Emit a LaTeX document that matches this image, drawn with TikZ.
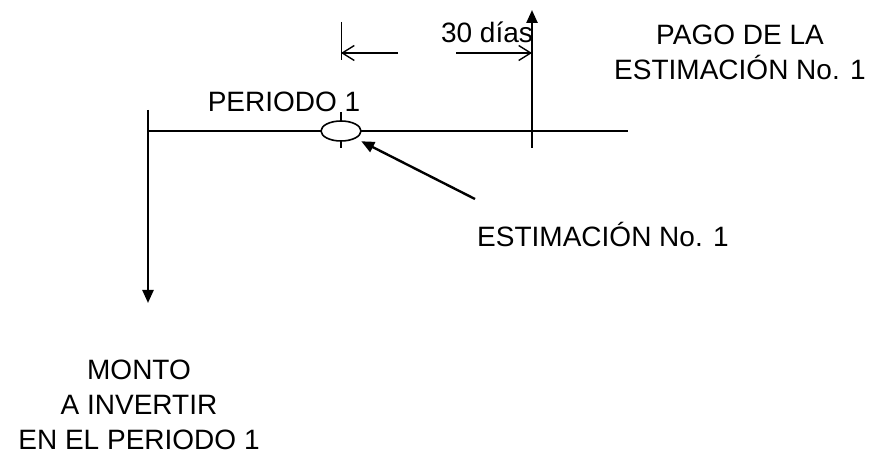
\documentclass[tikz,border=0pt]{standalone}
\usepackage{fontspec}
\setmainfont{Liberation Sans}
\usetikzlibrary{arrows.meta,shapes.geometric}
\begin{document}
\begin{tikzpicture}[x=0.5pt,y=-0.5pt,every node/.style={font=\fontsize{14}{17.5}\selectfont,inner sep=0pt}]
  \useasboundingbox (0,0) rectangle (874,454);
  % puntos del eje
  \coordinate (inicio) at (148,110);
  \coordinate (monto) at (148,303);
  \coordinate (eje0) at (148,131);
  \coordinate (eje1) at (628,131);
  \coordinate (pago0) at (532,148);
  \coordinate (pago1) at (532,10);
  \coordinate (marca0) at (341,112);
  \coordinate (marca1) at (341,148);
  \coordinate (cota0) at (341,22);
  \coordinate (cota1) at (341,60);
  \coordinate (flecha) at (475,199);
  \coordinate (izq) at (398,53);
  \coordinate (izqfin) at (341,53);
  \coordinate (der) at (456,53);
  \coordinate (derfin) at (532,53);
  \draw[line width=1.2pt] (eje0) -- (eje1);
  \draw[line width=0.7pt] (marca0) -- (marca1);
  \node[draw,ellipse,fill=white,line width=0.8pt,minimum width=20pt,minimum height=10pt] (est) at (341,131) {};
  \draw[line width=1.2pt,-{Triangle[length=6.5pt,width=5.5pt]}] (inicio) -- (monto);
  \draw[line width=1.2pt,-{Triangle[length=6.5pt,width=5.5pt]}] (pago0) -- (pago1);
  \draw[line width=1.2pt,shorten >=3pt,-{Triangle[length=6.5pt,width=5.5pt]}] (flecha) -- (est);
  % cota de 30 dias
  \draw[line width=0.5pt] (cota0) -- (cota1);
  \draw[line width=0.7pt,-{Straight Barb[length=6pt,width=7.5pt]}] (izq) -- (izqfin);
  \draw[line width=0.7pt,-{Straight Barb[length=6pt,width=7.5pt]}] (der) -- (derfin);
  \node[anchor=base] (dias) at (487,43) {30 días};
  \node[anchor=base] (periodo) at (284,112) {PERIODO 1};
  \node[anchor=base] (estim) at (603,247) {ESTIMACIÓN No. 1};
  \node[anchor=north,align=center] (pago) at (740,25) {PAGO DE LA\\ESTIMACIÓN No. 1};
  \node[anchor=north,align=center] (invertir) at (139,360) {MONTO\\A INVERTIR\\EN EL PERIODO 1};
\end{tikzpicture}
\end{document}
